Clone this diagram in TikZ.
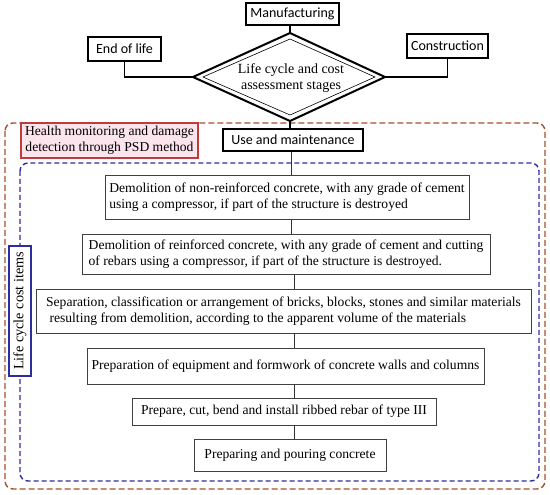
\documentclass[tikz,border=0pt]{standalone}
\usepackage{fontspec}
\setmainfont{Liberation Serif}
\newfontfamily\labelfont{Carlito}
\definecolor{framebrown}{RGB}{165,80,45}
\definecolor{frameblue}{RGB}{45,45,160}
\definecolor{healthred}{RGB}{190,60,60}
\definecolor{healthfill}{RGB}{252,228,236}
\begin{document}
\begin{tikzpicture}[x=1pt,y=-1pt,
  thickbox/.style={draw=black,line width=1.6pt,fill=white,inner sep=0pt,font=\labelfont\fontsize{14}{16}\selectfont},
  itembox/.style={draw=black!75,line width=0.8pt,fill=white,inner sep=0pt,align=left,font=\fontsize{13.6}{16.5}\selectfont},
  conn/.style={draw=black!80,line width=0.8pt},
  bconn/.style={draw=black,line width=1.3pt},
  brownframe/.style={draw=framebrown,line width=1.4pt,dash pattern=on 6pt off 3pt,rounded corners=8pt},
  blueframe/.style={draw=frameblue,line width=1.4pt,dash pattern=on 5pt off 3pt,rounded corners=8pt}]
\useasboundingbox (0,0) rectangle (550,495);
\fill[white] (0,0) rectangle (550,495);
% frames
\draw[brownframe] (5,123) rectangle (545,489);
\draw[blueframe] (20,163) rectangle (539,481);
% diamond
\coordinate (dt) at (290,33);
\coordinate (dl) at (193,77);
\coordinate (dr) at (385,77);
\coordinate (db) at (290,121);
\draw[line width=2pt,line join=miter,fill=white] (dt) -- (dr) -- (db) -- (dl) -- cycle;
\draw[line width=0.6pt] (290,39) -- (375,77) -- (290,115) -- (203,77) -- cycle;
\node[align=center,font=\fontsize{14}{16.5}\selectfont,inner sep=0pt] (diam) at (291,78) {Life cycle and cost\\assessment stages};
% top boxes
\node[thickbox,minimum width=93pt,minimum height=22pt] (manu) at (292.5,14) {Manufacturing};
\node[thickbox,minimum width=73pt,minimum height=24pt] (eol) at (124.5,49) {End of life};
\node[thickbox,minimum width=81pt,minimum height=24pt] (cons) at (447.5,46) {Construction};
\node[thickbox,minimum width=140pt,minimum height=22pt] (use) at (293,140) {Use and maintenance};
\draw[bconn] (manu.south -| dt) -- (dt);
\draw[bconn] (eol.south) |- (dl);
\draw[bconn] (cons.south) |- (dr);
\draw[bconn] (db) -- (db |- use.north);
% side labels
\node[draw=healthred,line width=1.3pt,fill=healthfill,inner sep=0pt,minimum width=177pt,minimum height=35pt,align=center,font=\fontsize{13.6}{16}\selectfont] (health) at (109.5,140.5) {Health monitoring and damage\\detection through PSD method};
\node[draw=frameblue,line width=1.3pt,fill=white,inner sep=0pt,minimum width=130pt,minimum height=22pt,rotate=90,font=\fontsize{14.2}{16}\selectfont] (lcc) at (20,311) {Life cycle cost items};
% item boxes
\node[itembox,minimum width=364pt,minimum height=44pt] (b1) at (287,197) {Demolition of non-reinforced concrete, with any grade of cement\\using a compressor, if part of the structure is destroyed};
\node[itembox,minimum width=408pt,minimum height=40pt] (b2) at (286,254) {Demolition of reinforced concrete, with any grade of cement and cutting\\of rebars using a compressor, if part of the structure is destroyed.};
\node[itembox,minimum width=495pt,minimum height=44pt] (b3) at (283.5,311) {Separation, classification or arrangement of bricks, blocks, stones and similar materials\\\ resulting from demolition, according to the apparent volume of the materials};
\node[itembox,minimum width=397pt,minimum height=36pt] (b4) at (285.5,366) {Preparation of equipment and formwork of concrete walls and columns};
\node[itembox,minimum width=304pt,minimum height=27pt] (b5) at (284,411.5) {Prepare, cut, bend and install ribbed rebar of type III};
\node[itembox,minimum width=192pt,minimum height=32pt] (b6) at (290,455) {Preparing and pouring concrete};
\coordinate (cx) at (291,0);
\coordinate (cy) at (294,0);
\draw[conn] (use.south -| cx) -- (b1.north -| cx);
\draw[conn] (b1.south -| cx) -- (b2.north -| cx);
\draw[conn] (b2.south -| cy) -- (b3.north -| cy);
\draw[conn] (b3.south -| cy) -- (b4.north -| cy);
\draw[conn] (b4.south -| cy) -- (b5.north -| cy);
\draw[conn] (b5.south -| cy) -- (b6.north -| cy);
\end{tikzpicture}
\end{document}
